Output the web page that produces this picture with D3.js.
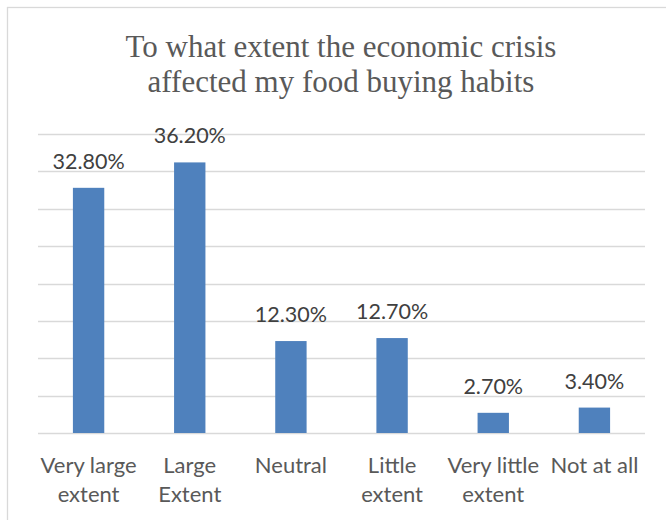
<!DOCTYPE html>
<html>
<head>
<meta charset="utf-8">
<script src="https://cdn.jsdelivr.net/npm/d3@7"></script>
<style>
  html, body { margin: 0; padding: 0; background: #fff; }
  svg { display: block; }
</style>
</head>
<body>
<svg id="chart" width="666" height="520"></svg>
<script>
// Survey responses
const categories = [
  ["Very large", "extent"],
  ["Large", "Extent"],
  ["Neutral"],
  ["Little", "extent"],
  ["Very little", "extent"],
  ["Not at all"]
];
const values = [32.8, 36.2, 12.3, 12.7, 2.7, 3.4];
const gridTicks = [0, 5, 10, 15, 20, 25, 30, 35, 40];
const titleLines = ["To what extent the economic crisis", "affected my food buying habits"];

const svg = d3.select("#chart");
const W = 666, H = 520;
const plot = { left: 38, right: 645, top: 134, bottom: 433 };

// chart frame
svg.append("rect")
  .attr("x", 7.5).attr("y", 7.5)
  .attr("width", W + 10).attr("height", H + 10)
  .attr("fill", "#fff").attr("stroke", "#d9d9d9").attr("stroke-width", 1.3);

const keys = categories.map((c, i) => i);
const x = d3.scaleBand().domain(keys).range([plot.left, plot.right]).paddingInner(0.69).paddingOuter(0.345);
const y = d3.scaleLinear().domain([0, 40]).range([plot.bottom, plot.top]);

// horizontal gridlines
svg.append("g").selectAll("line").data(gridTicks).join("line")
  .attr("x1", plot.left).attr("x2", plot.right)
  .attr("y1", d => Math.round(y(d)) + 0.5).attr("y2", d => Math.round(y(d)) + 0.5)
  .attr("stroke", "#d9d9d9").attr("stroke-width", 1.4);

// bars
svg.append("g").selectAll("rect").data(values).join("rect")
  .attr("x", (d, i) => x(i))
  .attr("width", x.bandwidth())
  .attr("y", d => y(d))
  .attr("height", d => y(0) - y(d))
  .attr("fill", "#4f81bd");

// value labels
svg.append("g").selectAll("text").data(values).join("text")
  .attr("x", (d, i) => x(i) + x.bandwidth() / 2)
  .attr("y", d => y(d) - 19)
  .attr("text-anchor", "middle")
  .attr("font-family", "Lato, 'Open Sans', sans-serif")
  .attr("font-size", 21.5)
  .attr("fill", "#404040")
  .text(d => d.toFixed(2) + "%");

// category labels
const cat = svg.append("g").selectAll("text").data(categories).join("text")
  .attr("x", (d, i) => x(i) + x.bandwidth() / 2)
  .attr("y", 473)
  .attr("text-anchor", "middle")
  .attr("font-family", "Lato, 'Open Sans', sans-serif")
  .attr("font-size", 22)
  .attr("fill", "#595959");
cat.selectAll("tspan").data(d => d).join("tspan")
  .attr("x", function () { return d3.select(this.parentNode).attr("x"); })
  .attr("dy", (d, i) => i === 0 ? 0 : 29)
  .text(d => d);

// title
svg.append("g").selectAll("text").data(titleLines).join("text")
  .attr("x", 341)
  .attr("y", (d, i) => 57 + i * 35)
  .attr("text-anchor", "middle")
  .attr("font-family", "'Liberation Serif', 'Times New Roman', serif")
  .attr("font-size", 31)
  .attr("fill", "#595959")
  .text(d => d);
</script>
</body>
</html>
